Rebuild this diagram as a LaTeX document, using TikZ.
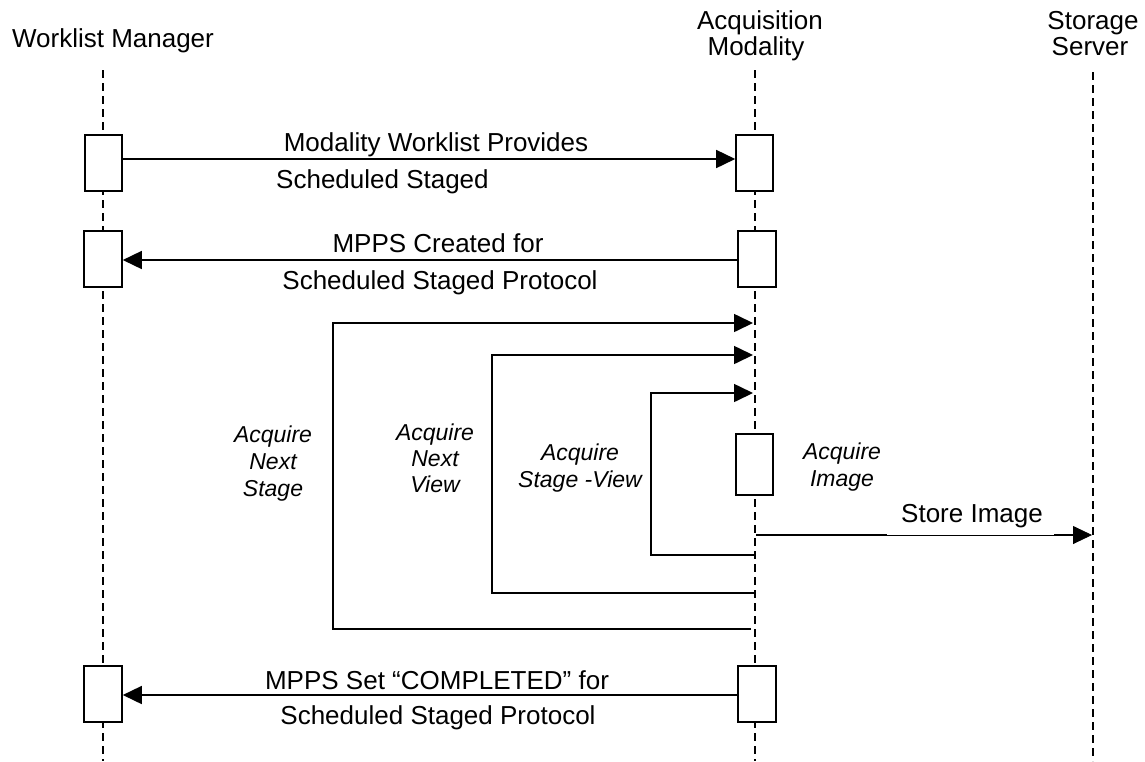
\documentclass[tikz,border=0pt]{standalone}
\usepackage{fontspec}
\setmainfont{Liberation Sans}
\usetikzlibrary{arrows.meta}
\begin{document}
\begin{tikzpicture}[x=1pt,y=-1pt,
  lifeline/.style={dash pattern=on 8pt off 5pt, line width=1.4pt},
  actbox/.style={draw, fill=white, line width=1.6pt, minimum width=37pt, minimum height=56pt, inner sep=0pt},
  msg/.style={line width=1.6pt, -{Triangle[length=19pt,width=18pt]}},
  title/.style={font=\fontsize{26}{30}\selectfont, anchor=base, inner sep=0pt},
  lbl/.style={font=\fontsize{26}{30}\selectfont, anchor=base, inner sep=0pt},
  ilbl/.style={font=\fontsize{23}{26}\selectfont\itshape, anchor=base, inner sep=0pt}]
\useasboundingbox (0,0) rectangle (1145,761);

% titles
\node[title] (wmT) at (113,47) {Worklist Manager};
\node[title] (amT1) at (760,29) {Acquisition};
\node[title] (amT) at (756,55) {Modality};
\node[title] (ssT1) at (1093,29) {Storage};
\node[title] (ssT) at (1090,55) {Server};

% lifelines
\coordinate (wmTop) at (103,70);  \coordinate (wmBot) at (103,761);
\coordinate (amTop) at (755,70);  \coordinate (amBot) at (755,761);
\coordinate (ssTop) at (1093,72); \coordinate (ssBot) at (1093,761);
\draw[lifeline] (wmTop) -- (wmBot);
\draw[lifeline] (amTop) -- (amBot);
\draw[lifeline] (ssTop) -- (ssBot);

% activation boxes
\node[actbox] (wm1) at (103.5,163) {};
\node[actbox] (am1) at (754.5,163) {};
\node[actbox, minimum width=38pt] (wm2) at (103,259) {};
\node[actbox, minimum width=38pt] (am2) at (757,259) {};
\node[actbox, minimum height=61pt] (amI) at (754.5,464.5) {};
\node[actbox, minimum width=38pt] (wm3) at (103,694) {};
\node[actbox, minimum width=38pt] (am3) at (757,694) {};

% message 1
\coordinate (y1) at (0,159);
\draw[msg] (wm1.east |- y1) -- (am1.west |- y1);
\node[lbl] (l1a) at (436,151) {Modality Worklist Provides};
\node[lbl, anchor=base west] (l1b) at (276,188) {Scheduled Staged};

% message 2
\coordinate (y2) at (0,260);
\draw[msg] (am2.west |- y2) -- (wm2.east |- y2);
\node[lbl] (l2a) at (438,252) {MPPS Created for};
\node[lbl] (l2b) at (440,289) {Scheduled Staged Protocol};

% loops
\coordinate (s1b) at (751,629); \coordinate (s1bl) at (333,629);
\coordinate (s1tl) at (333,323); \coordinate (s1t) at (753,323);
\draw[msg] (s1b) -- (s1bl) -- (s1tl) -- (s1t);
\coordinate (s2b) at (755,593); \coordinate (s2bl) at (492,593);
\coordinate (s2tl) at (492,355); \coordinate (s2t) at (753,355);
\draw[msg] (s2b) -- (s2bl) -- (s2tl) -- (s2t);
\coordinate (s3b) at (755,555); \coordinate (s3bl) at (651,555);
\coordinate (s3tl) at (651,393); \coordinate (s3t) at (753,393);
\draw[msg] (s3b) -- (s3bl) -- (s3tl) -- (s3t);

\node[ilbl] (st1) at (273,442) {Acquire};
\node[ilbl] (st2) at (273,469) {Next};
\node[ilbl] (st3) at (273,496) {Stage};
\node[ilbl] (vw1) at (435,440) {Acquire};
\node[ilbl] (vw2) at (435,466) {Next};
\node[ilbl] (vw3) at (435,492) {View};
\node[ilbl] (sv1) at (580,460) {Acquire};
\node[ilbl] (sv2) at (580,487) {Stage -View};
\node[ilbl] (im1) at (842,459) {Acquire};
\node[ilbl] (im2) at (842,486) {Image};

% store image
\coordinate (stA) at (756,535); \coordinate (stB) at (1092,535);
\draw[line width=0.8pt, -{Triangle[length=19pt,width=18pt]}] (stA) -- (stB);
\draw[line width=1.6pt] (stA) -- (887,535);
\draw[line width=1.6pt] (1054,535) -- (1078,535);
\node[lbl] (stL) at (972,522) {Store Image};

% message 3
\coordinate (y3) at (0,695);
\draw[msg] (am3.west |- y3) -- (wm3.east |- y3);
\node[lbl] (l3a) at (437,689) {MPPS Set “COMPLETED” for};
\node[lbl] (l3b) at (438,724) {Scheduled Staged Protocol};
\end{tikzpicture}
\end{document}
